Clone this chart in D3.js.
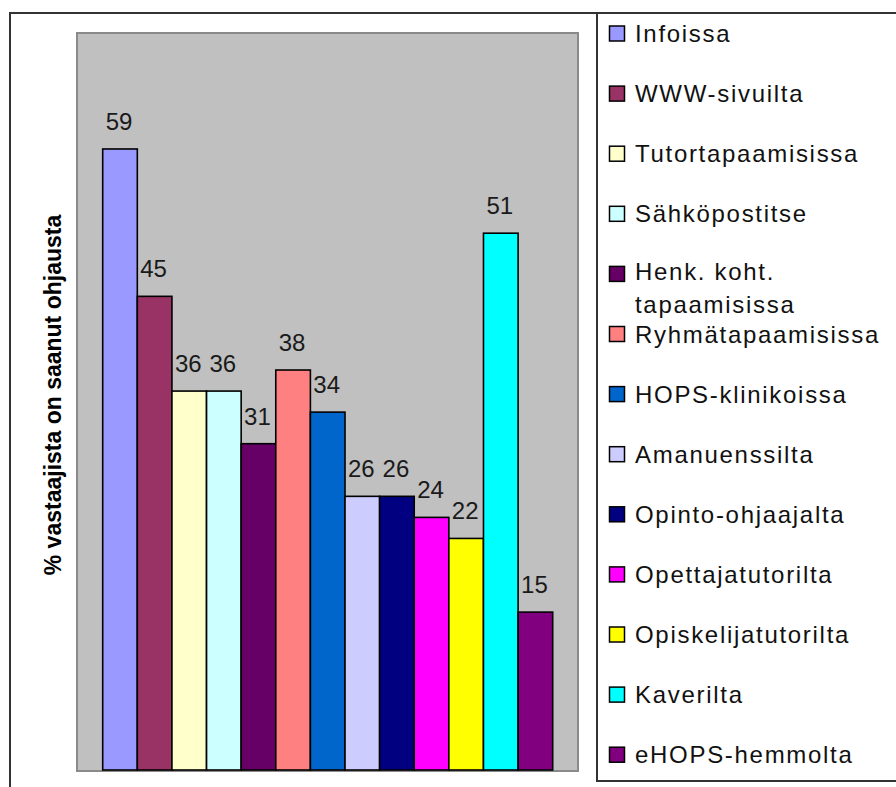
<!DOCTYPE html>
<html>
<head>
<meta charset="utf-8">
<script src="https://cdnjs.cloudflare.com/ajax/libs/d3/7.8.5/d3.min.js"></script>
<style>
  html, body { margin: 0; padding: 0; background: #ffffff; }
  svg { display: block; }
</style>
</head>
<body>
<div id="chart"></div>
<script>
const categories = [
  "Infoissa", "WWW-sivuilta", "Tutortapaamisissa", "Sähköpostitse",
  "Henk. koht. tapaamisissa", "Ryhmätapaamisissa", "HOPS-klinikoissa",
  "Amanuenssilta", "Opinto-ohjaajalta", "Opettajatutorilta",
  "Opiskelijatutorilta", "Kaverilta", "eHOPS-hemmolta"
];
const values = [59, 45, 36, 36, 31, 38, 34, 26, 26, 24, 22, 51, 15];
const colors = [
  "#9999FF", "#993366", "#FFFFCC", "#CCFFFF", "#660066", "#FF8080",
  "#0066CC", "#CCCCFF", "#000080", "#FF00FF", "#FFFF00", "#00FFFF", "#800080"
];
const yDomain = [0, 70];
const yTitle = "% vastaajista on saanut ohjausta";

const W = 896, H = 787;
const svg = d3.select("#chart").append("svg")
  .attr("width", W).attr("height", H);

// outer chart border (extends beyond right/bottom edge)
svg.append("rect")
  .attr("x", 10).attr("y", 13).attr("width", W + 20).attr("height", H + 20)
  .attr("fill", "#ffffff").attr("stroke", "#333333").attr("stroke-width", 2);

// plot area
const plot = { left: 77, top: 33, right: 578, bottom: 771 };
svg.append("rect")
  .attr("x", plot.left).attr("y", plot.top)
  .attr("width", plot.right - plot.left).attr("height", plot.bottom - plot.top)
  .attr("fill", "#C0C0C0").attr("stroke", "#8a8a8a").attr("stroke-width", 2);

const x = d3.scaleBand()
  .domain(categories)
  .range([plot.left + 25.7, plot.right - 25.3])
  .padding(0);

const y = d3.scaleLinear().domain(yDomain).range([770, 33.2]);

const data = categories.map((c, i) => ({ name: c, value: values[i], color: colors[i] }));

svg.append("g").selectAll("rect").data(data).join("rect")
  .attr("x", d => x(d.name))
  .attr("y", d => y(d.value))
  .attr("width", x.bandwidth())
  .attr("height", d => y(0) - y(d.value))
  .attr("fill", d => d.color)
  .attr("stroke", "#000000").attr("stroke-width", 1.6);

svg.append("g").selectAll("text").data(data).join("text")
  .attr("x", d => x(d.name) + x.bandwidth() / 2 - 1)
  .attr("y", d => y(d.value) - 19)
  .attr("text-anchor", "middle")
  .attr("font-family", "'Liberation Sans', Arial, sans-serif")
  .attr("font-size", 24)
  .attr("fill", "#1a1a1a")
  .text(d => d.value);

// y axis title
svg.append("text")
  .attr("transform", "translate(61,395) rotate(-90)")
  .attr("text-anchor", "middle")
  .attr("font-family", "'Liberation Sans', Arial, sans-serif")
  .attr("font-weight", "bold")
  .attr("font-size", 23)
  .attr("fill", "#000000")
  .text(yTitle);

// legend box
svg.append("rect")
  .attr("x", 597).attr("y", 13).attr("width", 320).attr("height", 768)
  .attr("fill", "#ffffff").attr("stroke", "#333333").attr("stroke-width", 2);

const pitch = 60.1;
const leg = svg.append("g").selectAll("g").data(data).join("g")
  .attr("transform", (d, i) => `translate(0,${42 + i * pitch})`);

leg.append("rect")
  .attr("x", 609.5).attr("y", -16).attr("width", 15).attr("height", 15)
  .attr("fill", d => d.color).attr("stroke", "#000000").attr("stroke-width", 1.5);

leg.each(function(d) {
  const g = d3.select(this);
  const t = g.append("text")
    .attr("x", 635).attr("y", 0)
    .attr("font-family", "'Liberation Sans', Arial, sans-serif")
    .attr("font-size", 24)
    .attr("letter-spacing", 1.7)
    .attr("fill", "#111111");
  if (d.name.length > 20) {
    const k = d.name.lastIndexOf(" ");
    t.append("tspan").attr("x", 635).attr("y", -2).text(d.name.slice(0, k));
    t.append("tspan").attr("x", 635).attr("y", 31).text(d.name.slice(k + 1));
  } else {
    t.text(d.name);
  }
});
</script>
</body>
</html>
